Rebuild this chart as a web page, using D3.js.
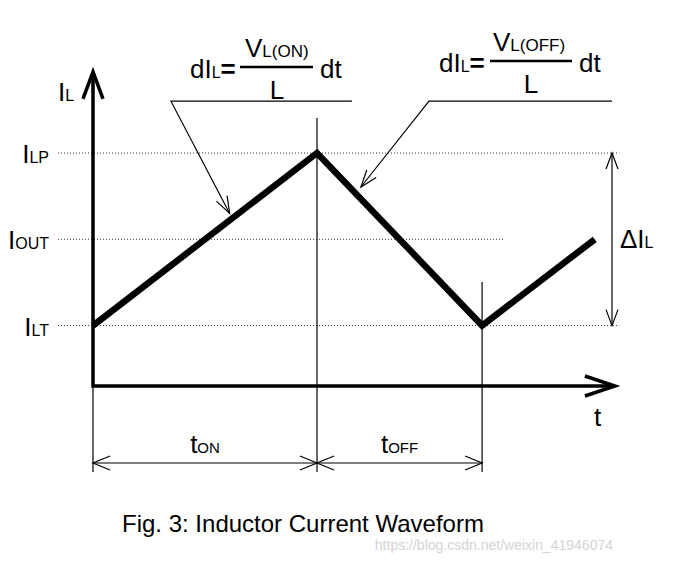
<!DOCTYPE html>
<html lang="en">
<head>
<meta charset="UTF-8">
<title>Inductor Current Waveform</title>
<script src="https://d3js.org/d3.v7.min.js"></script>
<style>
  body { margin: 0; background: #fff; }
  svg { display: block; }
  text { font-family: "Liberation Sans", Arial, sans-serif; fill: #000; }
  .thin { stroke: #000; stroke-width: 1.2; fill: none; }
  .dot { stroke: #333; stroke-width: 1; stroke-dasharray: 1,2; fill: none; }
</style>
</head>
<body>
<svg width="687" height="563"></svg>
<script>
// waveform: time in units of tON, current in arbitrary units
const tOn = 1;
const tOff = 0.737;
const waveT = [0, tOn, tOn + tOff, 2.24];
const waveI = [1, 3, 1, 2];

// reference current levels
const levelSubs = ["LP", "OUT", "LT"];
const levelValues = [3, 2, 1];
const levelEnds = [2.35, 1.84, 2.35];

const svg = d3.select("svg");

const x = d3.scaleLinear().domain([0, 1]).range([93, 317]);
const y = d3.scaleLinear().domain([0.3, 3]).range([386, 153]);

// open "V" arrow head, tip at (tx,ty), pointing away from (fx,fy)
function arrowHead(tx, ty, fx, fy, len, half, w) {
  const a = Math.atan2(ty - fy, tx - fx);
  const bx = tx - len * Math.cos(a), by = ty - len * Math.sin(a);
  const px = -Math.sin(a) * half, py = Math.cos(a) * half;
  svg.append("path")
    .attr("d", `M${bx + px},${by + py}L${tx},${ty}L${bx - px},${by - py}`)
    .attr("fill", "none").attr("stroke", "#000").attr("stroke-width", w)
    .attr("stroke-linejoin", "miter");
}

function line(x1, y1, x2, y2, cls) {
  svg.append("line").attr("class", cls)
    .attr("x1", x1).attr("y1", y1).attr("x2", x2).attr("y2", y2);
}

// dotted level lines
levelValues.forEach((v, i) => {
  line(58, y(v), x(levelEnds[i]), y(v), "dot");
});

// level labels
levelValues.forEach((v, i) => {
  const t = svg.append("text").attr("x", 49).attr("y", y(v) + 10)
    .attr("text-anchor", "end").style("font-size", "26px");
  t.append("tspan").text("I");
  t.append("tspan").style("font-size", "16px").text(levelSubs[i]);
});

// vertical guides
const dimY = 463, guideBottom = 472;
line(x(0), y(0.3), x(0), guideBottom, "thin");
line(x(tOn), 118, x(tOn), guideBottom, "thin");
line(x(tOn + tOff), 282, x(tOn + tOff), guideBottom, "thin");

// axes
const yTop = 3.94, xEnd = 2.33;
svg.append("path")
  .attr("d", `M${x(0)},${y(yTop)}L${x(0)},${y(0.3)}L${x(xEnd)},${y(0.3)}`)
  .attr("fill", "none").attr("stroke", "#000").attr("stroke-width", 3.5);
arrowHead(x(0), y(yTop), x(0), y(0.3), 27, 10, 3.5);
arrowHead(x(xEnd), y(0.3), x(0), y(0.3), 30, 10, 3.5);

// waveform
svg.append("path")
  .datum(d3.zip(waveT, waveI))
  .attr("d", d3.line().x(d => x(d[0])).y(d => y(d[1])))
  .attr("fill", "none").attr("stroke", "#000").attr("stroke-width", 6.5)
  .attr("stroke-linejoin", "miter");

// axis labels
const il = svg.append("text").attr("x", 58).attr("y", 101).style("font-size", "26px");
il.append("tspan").text("I");
il.append("tspan").style("font-size", "16px").text("L");
svg.append("text").attr("x", 594).attr("y", 426).style("font-size", "26px").text("t");

// delta I arrow
const dx = x(2.317);
line(dx, y(3), dx, y(1), "thin");
arrowHead(dx, y(3), dx, y(1), 16, 6, 1.2);
arrowHead(dx, y(1), dx, y(3), 16, 6, 1.2);
const di = svg.append("text").attr("x", 620).attr("y", 248).style("font-size", "26px");
di.append("tspan").text("ΔI");
di.append("tspan").style("font-size", "16px").text("L");

// dimension arrows tON / tOFF
line(x(0), dimY, x(tOn), dimY, "thin");
line(x(tOn), dimY, x(tOn + tOff), dimY, "thin");
arrowHead(x(0), dimY, x(tOn), dimY, 17, 7, 1.2);
arrowHead(x(tOn), dimY, x(0), dimY, 17, 7, 1.2);
arrowHead(x(tOn), dimY, x(tOn + tOff), dimY, 17, 7, 1.2);
arrowHead(x(tOn + tOff), dimY, x(tOn), dimY, 17, 7, 1.2);
[["ON", x(tOn / 2)], ["OFF", x(tOn + tOff / 2)]].forEach(([s, cx]) => {
  const t = svg.append("text").attr("x", cx).attr("y", 453)
    .attr("text-anchor", "middle").style("font-size", "26px");
  t.append("tspan").text("t");
  t.append("tspan").style("font-size", "15px").text(s);
});

// formula leaders
const leaders = [
  { elbow: [0.348, 3.6], end: 1.156, tip: [0.61, 2.3] },
  { elbow: [1.5, 3.6], end: 2.317, tip: [1.196, 2.606] }
];
leaders.forEach(l => {
  svg.append("path")
    .attr("d", `M${x(l.end)},${y(l.elbow[1])}L${x(l.elbow[0])},${y(l.elbow[1])}L${x(l.tip[0])},${y(l.tip[1])}`)
    .attr("class", "thin");
  arrowHead(x(l.tip[0]), y(l.tip[1]), x(l.elbow[0]), y(l.elbow[1]), 17, 6, 1.2);
});

// formulas
function formula(x0, base, barX1, barX2, num, numX, denX, dtX) {
  const a = svg.append("text").attr("x", x0).attr("y", base).style("font-size", "26px");
  a.append("tspan").text("dI");
  a.append("tspan").style("font-size", "16px").text("L");
  a.append("tspan").style("font-weight", "bold").text("=");
  svg.append("line").attr("x1", barX1).attr("x2", barX2)
    .attr("y1", base - 11).attr("y2", base - 11)
    .attr("stroke", "#000").attr("stroke-width", 2.5);
  const n = svg.append("text").attr("x", numX).attr("y", base - 21).style("font-size", "26px");
  n.append("tspan").text("V");
  n.append("tspan").style("font-size", "17px").text(num);
  svg.append("text").attr("x", denX).attr("y", base + 21)
    .attr("text-anchor", "middle").style("font-size", "26px").text("L");
  svg.append("text").attr("x", dtX).attr("y", base).style("font-size", "26px").text("dt");
}
formula(190, 78, 240, 313, "L(ON)", 245, 277, 320);
formula(439, 72, 490, 572, "L(OFF)", 493, 531, 579);

// caption
svg.append("text").attr("x", 122).attr("y", 532).style("font-size", "24px")
  .text("Fig. 3: Inductor Current Waveform");
svg.append("text").attr("x", 613).attr("y", 550).attr("text-anchor", "end")
  .style("font-size", "14px").style("fill", "#d4d4d4")
  .text("https://blog.csdn.net/weixin_41946074");
</script>
</body>
</html>
